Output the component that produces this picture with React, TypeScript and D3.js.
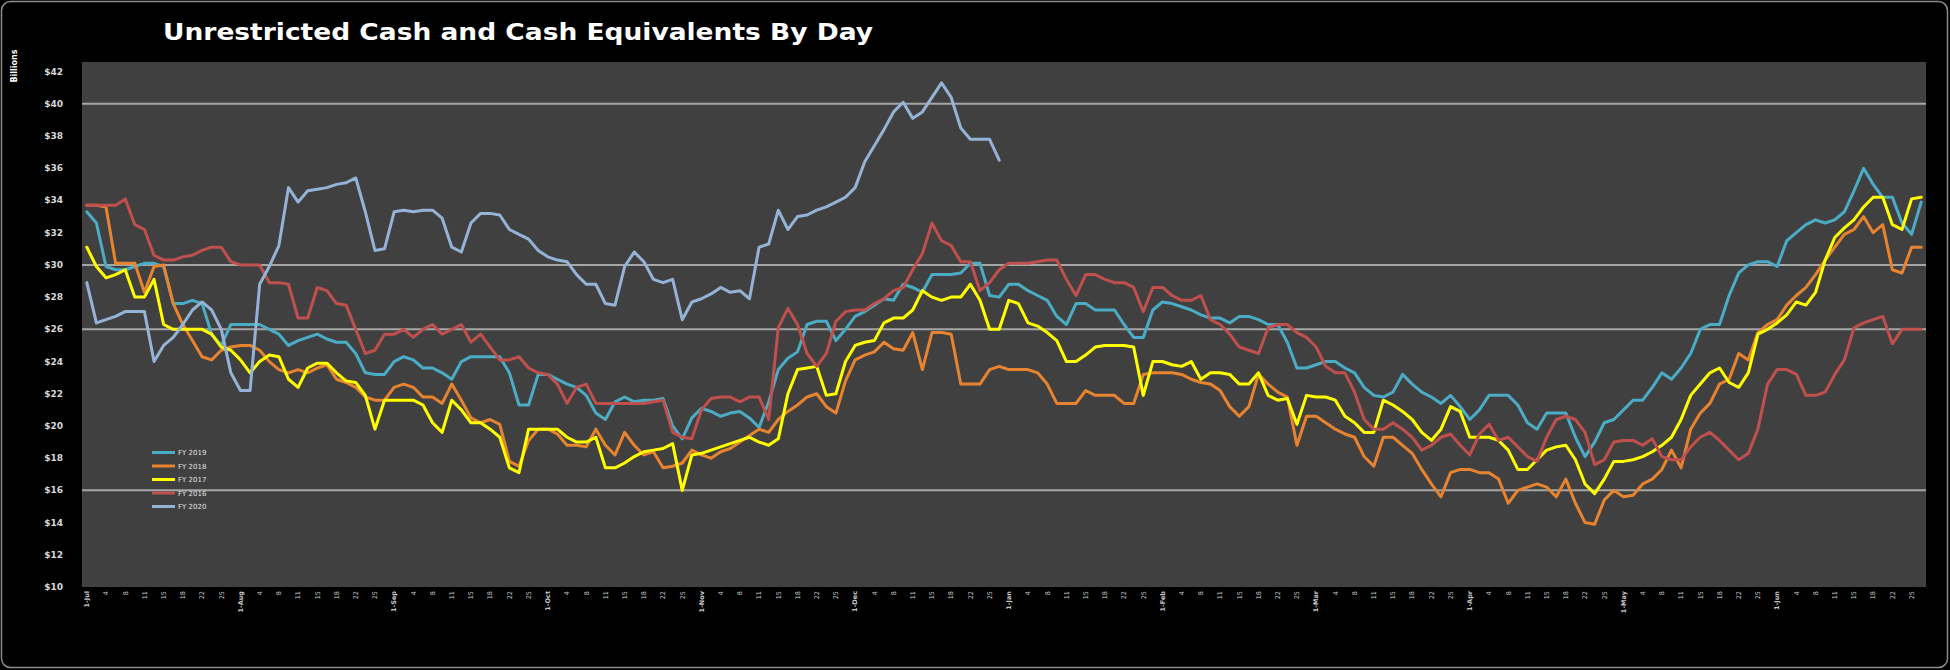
import React from 'react';
import * as d3 from 'd3';

// ---------- data ----------
const seriesNames = ['FY 2019', 'FY 2018', 'FY 2017', 'FY 2016', 'FY 2020'];

const teal = [
  33.3, 32.6, 29.9, 29.7, 29.7, 29.9, 30.1, 30.1, 29.9, 27.6,
  27.6, 27.8, 27.6, 25.7, 25.0, 26.3, 26.3, 26.3, 26.3, 26.0,
  25.7, 25.0, 25.3, 25.5, 25.7, 25.4, 25.2, 25.2, 24.5, 23.3,
  23.2, 23.2, 24.0, 24.3, 24.1, 23.6, 23.6, 23.3, 22.9, 24.0,
  24.3, 24.3, 24.3, 24.3, 23.3, 21.3, 21.3, 23.2, 23.2, 22.9,
  22.6, 22.4, 21.9, 20.8, 20.4, 21.5, 21.8, 21.5, 21.6, 21.6,
  21.7, 20.0, 19.2, 20.5, 21.1, 20.9, 20.6, 20.8, 20.9, 20.5,
  19.9, 21.5, 23.5, 24.2, 24.6, 26.3, 26.5, 26.5, 25.3, 26.0,
  26.8, 27.1, 27.5, 27.9, 27.8, 28.8, 28.6, 28.3, 29.4, 29.4,
  29.4, 29.5, 30.1, 30.1, 28.1, 28.0, 28.8, 28.8, 28.4, 28.1,
  27.8, 26.8, 26.3, 27.6, 27.6, 27.2, 27.2, 27.2, 26.3, 25.5,
  25.5, 27.2, 27.7, 27.6, 27.4, 27.2, 26.9, 26.7, 26.7, 26.4,
  26.8, 26.8, 26.6, 26.3, 26.3, 25.2, 23.6, 23.6, 23.8, 24.0,
  24.0, 23.6, 23.3, 22.4, 21.9, 21.8, 22.1, 23.2, 22.6, 22.1,
  21.8, 21.4, 21.9, 21.2, 20.4, 21.0, 21.9, 21.9, 21.9, 21.3,
  20.2, 19.8, 20.8, 20.8, 20.8, 19.3, 18.1, 19.0, 20.2, 20.4,
  21.0, 21.6, 21.6, 22.4, 23.3, 22.9, 23.6, 24.5, 26.0, 26.3,
  26.3, 28.1, 29.5, 30.0, 30.2, 30.2, 29.9, 31.5, 32.0, 32.5,
  32.8, 32.6, 32.8, 33.3, 34.6, 36.0, 35.0, 34.2, 34.2, 32.6,
  31.9, 33.9,
];

const orange = [
  33.7, 33.7, 33.6, 30.1, 30.1, 30.1, 28.3, 29.9, 30.0, 27.6,
  26.3, 25.3, 24.3, 24.1, 24.7, 24.9, 25.0, 25.0, 24.7, 24.0,
  23.5, 23.3, 23.5, 23.3, 23.6, 23.8, 22.9, 22.7, 22.4, 21.8,
  21.6, 21.6, 22.4, 22.6, 22.4, 21.8, 21.8, 21.4, 22.6, 21.6,
  20.5, 20.2, 20.4, 20.1, 17.8, 17.5, 19.1, 19.8, 19.8, 19.5,
  18.8, 18.8, 18.7, 19.8, 18.8, 18.2, 19.6, 18.8, 18.2, 18.4,
  17.4, 17.5, 17.7, 18.5, 18.2, 18.0, 18.4, 18.6, 19.0, 19.4,
  19.8, 19.6, 20.4, 20.9, 21.3, 21.8, 22.0, 21.2, 20.8, 22.8,
  24.1, 24.4, 24.6, 25.2, 24.8, 24.7, 25.8, 23.5, 25.8, 25.8,
  25.7, 22.6, 22.6, 22.6, 23.5, 23.7, 23.5, 23.5, 23.5, 23.3,
  22.6, 21.4, 21.4, 21.4, 22.2, 21.9, 21.9, 21.9, 21.4, 21.4,
  23.2, 23.3, 23.3, 23.3, 23.2, 22.9, 22.7, 22.6, 22.2, 21.2,
  20.6, 21.2, 23.2, 22.6, 22.1, 21.8, 18.8, 20.6, 20.6, 20.2,
  19.8, 19.5, 19.3, 18.1, 17.5, 19.3, 19.3, 18.8, 18.3, 17.3,
  16.4, 15.6, 17.1, 17.3, 17.3, 17.1, 17.1, 16.7, 15.2, 16.0,
  16.2, 16.4, 16.2, 15.6, 16.7, 15.2, 14.0, 13.9, 15.4, 16.0,
  15.6, 15.7, 16.4, 16.7, 17.3, 18.5, 17.4, 19.8, 20.8, 21.4,
  22.6, 22.9, 24.5, 24.1, 25.8, 26.3, 26.6, 27.5, 28.1, 28.6,
  29.4, 30.3, 31.1, 31.9, 32.2, 33.0, 32.0, 32.5, 29.7, 29.5,
  31.1, 31.1,
];

const yellow = [
  31.1, 29.9, 29.2, 29.4, 29.7, 28.0, 28.0, 29.1, 26.3, 26.0,
  26.0, 26.0, 26.0, 25.7, 24.9, 24.7, 24.1, 23.3, 24.0, 24.4,
  24.3, 22.9, 22.4, 23.6, 23.9, 23.9, 23.3, 22.8, 22.7, 21.9,
  19.8, 21.6, 21.6, 21.6, 21.6, 21.3, 20.2, 19.6, 21.6, 21.0,
  20.2, 20.2, 19.8, 19.3, 17.4, 17.1, 19.8, 19.8, 19.8, 19.8,
  19.3, 19.0, 19.0, 19.3, 17.4, 17.4, 17.7, 18.1, 18.4, 18.5,
  18.6, 18.9, 16.0, 18.2, 18.3, 18.5, 18.7, 18.9, 19.1, 19.3,
  19.0, 18.8, 19.2, 22.0, 23.5, 23.6, 23.7, 21.9, 22.0, 24.0,
  25.0, 25.2, 25.3, 26.4, 26.7, 26.7, 27.2, 28.4, 28.0, 27.8,
  28.0, 28.0, 28.8, 27.8, 26.0, 26.0, 27.8, 27.6, 26.4, 26.2,
  25.8, 25.3, 24.0, 24.0, 24.4, 24.9, 25.0, 25.0, 25.0, 24.9,
  21.9, 24.0, 24.0, 23.8, 23.7, 24.0, 22.9, 23.3, 23.3, 23.2,
  22.6, 22.6, 23.3, 21.9, 21.6, 21.7, 20.1, 21.9, 21.8, 21.8,
  21.6, 20.6, 20.2, 19.6, 19.6, 21.6, 21.3, 20.9, 20.4, 19.6,
  19.1, 19.8, 21.2, 20.9, 19.3, 19.3, 19.3, 19.1, 18.5, 17.3,
  17.3, 17.9, 18.5, 18.7, 18.8, 17.9, 16.4, 15.8, 16.7, 17.8,
  17.8, 17.9, 18.1, 18.4, 18.8, 19.3, 20.4, 21.9, 22.6, 23.3,
  23.6, 22.7, 22.4, 23.3, 25.7, 26.0, 26.4, 26.9, 27.7, 27.5,
  28.3, 30.3, 31.7, 32.3, 32.8, 33.6, 34.2, 34.2, 32.5, 32.2,
  34.1, 34.2,
];

const red = [
  33.7, 33.7, 33.7, 33.7, 34.1, 32.5, 32.2, 30.6, 30.3, 30.3,
  30.5, 30.6, 30.9, 31.1, 31.1, 30.2, 30.0, 30.0, 30.0, 28.9,
  28.9, 28.8, 26.7, 26.7, 28.6, 28.4, 27.6, 27.5, 26.0, 24.5,
  24.7, 25.7, 25.7, 26.0, 25.5, 26.0, 26.3, 25.7, 26.0, 26.3,
  25.2, 25.7, 24.9, 24.1, 24.1, 24.3, 23.6, 23.3, 23.2, 22.6,
  21.4, 22.4, 22.6, 21.4, 21.4, 21.4, 21.4, 21.4, 21.4, 21.5,
  21.6, 19.6, 19.3, 19.2, 21.0, 21.7, 21.8, 21.8, 21.5, 21.8,
  21.8, 20.4, 26.1, 27.3, 26.3, 24.5, 23.7, 24.5, 26.5, 27.1,
  27.2, 27.2, 27.6, 27.9, 28.4, 28.6, 29.7, 30.7, 32.6, 31.5,
  31.2, 30.2, 30.2, 28.4, 28.9, 29.7, 30.1, 30.1, 30.1, 30.2,
  30.3, 30.3, 29.1, 28.1, 29.4, 29.4, 29.1, 28.9, 28.9, 28.6,
  27.1, 28.6, 28.6, 28.1, 27.8, 27.8, 28.1, 26.6, 26.3, 25.7,
  24.9, 24.7, 24.5, 26.1, 26.3, 26.3, 25.8, 25.5, 24.9, 23.7,
  23.3, 23.3, 22.1, 20.4, 19.8, 19.8, 20.2, 19.8, 19.3, 18.5,
  18.8, 19.3, 19.5, 18.8, 18.2, 19.5, 20.1, 19.1, 19.3, 18.7,
  18.1, 17.8, 19.3, 20.4, 20.6, 20.4, 19.6, 17.6, 17.9, 19.0,
  19.1, 19.1, 18.8, 19.2, 18.1, 17.9, 17.9, 18.7, 19.3, 19.6,
  19.1, 18.5, 17.9, 18.3, 19.8, 22.6, 23.5, 23.5, 23.2, 21.9,
  21.9, 22.1, 23.2, 24.1, 26.1, 26.4, 26.6, 26.8, 25.1, 26.0,
  26.0, 26.0,
];

const lightBlue = [
  28.9, 26.4, 26.6, 26.8, 27.1, 27.1, 27.1, 24.0, 25.0, 25.5,
  26.3, 27.2, 27.7, 27.2, 26.0, 23.3, 22.2, 22.2, 28.8, 29.9,
  31.2, 34.8, 33.9, 34.6, 34.7, 34.8, 35.0, 35.1, 35.4, 33.3,
  30.9, 31.0, 33.3, 33.4, 33.3, 33.4, 33.4, 32.9, 31.1, 30.8,
  32.6, 33.2, 33.2, 33.1, 32.2, 31.9, 31.6, 30.9, 30.5, 30.3,
  30.2, 29.4, 28.8, 28.8, 27.6, 27.5, 29.9, 30.8, 30.2, 29.1,
  28.9, 29.1, 26.6, 27.7, 27.9, 28.2, 28.6, 28.3, 28.4, 27.9,
  31.1, 31.3, 33.4, 32.2, 33.0, 33.1, 33.4, 33.6, 33.9, 34.2,
  34.8, 36.4, 37.4, 38.4, 39.5, 40.1, 39.1, 39.5, 40.4, 41.3,
  40.4, 38.5, 37.8, 37.8, 37.8, 36.5,
];

const yTickValues = [10, 12, 14, 16, 18, 20, 22, 24, 26, 28, 30, 32, 34, 36, 38, 40, 42];
const gridValues = [16, 26, 30, 40];
const monthNames = ['Jul', 'Aug', 'Sep', 'Oct', 'Nov', 'Dec', 'Jan', 'Feb', 'Mar', 'Apr', 'May', 'Jun'];
const dayTicks = ['1', '4', '8', '11', '15', '18', '22', '25'];

const colors = ['#4bacc6', '#e8832f', '#ffff00', '#c0504d', '#95b3d7'];

export default function App() {
  const W = 1950;
  const H = 670;
  const left = 82, right = 1926, top = 62, bottom = 587;
  const n = teal.length;

  const x = d3.scalePoint<number>().domain(d3.range(n)).range([left, right]).padding(0.5);
  const y = d3.scaleLinear().domain([10, 42.6]).range([bottom, top]);
  const line = d3.line<number>().x((_d, i) => x(i) as number).y((d) => y(d));

  const series = [teal, orange, yellow, red, lightBlue].map((values, i) => ({
    name: seriesNames[i],
    color: colors[i],
    values,
  }));

  // x tick labels: every second category
  const xLabels: { idx: number; text: string; month: boolean }[] = [];
  monthNames.forEach((m, mi) => {
    dayTicks.forEach((d, di) => {
      const idx = (mi * dayTicks.length + di) * 2;
      xLabels.push({ idx, text: di === 0 ? `${d}-${m}` : d, month: di === 0 });
    });
  });

  const legendY0 = 452.5;
  const legendStep = 13.5;

  return (
    <svg
      width={W}
      height={H}
      style={{ position: 'absolute', left: 0, top: 0, display: 'block' }}
      fontFamily="'DejaVu Sans', sans-serif"
    >
      <rect x={0} y={0} width={W} height={H} fill="#000" />
      <rect x={1.5} y={1.5} width={W - 4} height={H - 4} rx={9} fill="#000" stroke="#8a8a8a" strokeWidth={1.5} />

      <text
        x={163}
        y={40}
        fill="#fff"
        fontSize={23}
        fontWeight="bold"
        textLength={710}
        lengthAdjust="spacingAndGlyphs"
      >
        Unrestricted Cash and Cash Equivalents By Day
      </text>

      {/* y axis title */}
      <text
        transform="translate(17,66) rotate(-90)"
        fill="#fff"
        fontSize={8}
        fontWeight="bold"
        textAnchor="middle"
      >
        Billions
      </text>

      {/* plot area */}
      <rect x={left} y={top} width={right - left} height={bottom - top} fill="#404040" />

      {gridValues.map((g) => (
        <line key={g} x1={left} x2={right} y1={y(g)} y2={y(g)} stroke="#a6a6a6" strokeWidth={2} />
      ))}

      {yTickValues.map((v) => (
        <text key={v} x={63} y={y(v) + 3} fill="#d8d8d8" fontSize={9} fontWeight="bold" textAnchor="end">
          {`$${v}`}
        </text>
      ))}

      {xLabels.map((l) => (
        <text
          key={l.idx}
          transform={`translate(${(x(l.idx) as number) + 2.3},${591}) rotate(-90)`}
          fill="#c8c8c8"
          fontSize={6.5}
          fontWeight={l.month ? 'bold' : 'normal'}
          textAnchor="end"
        >
          {l.text}
        </text>
      ))}

      {series.map((s) => (
        <path
          key={s.name}
          d={line(s.values) || ''}
          fill="none"
          stroke={s.color}
          strokeWidth={3}
          strokeLinejoin="round"
          strokeLinecap="round"
        />
      ))}

      {/* legend */}
      {series.map((s, i) => (
        <g key={s.name} transform={`translate(152,${legendY0 + i * legendStep})`}>
          <line x1={0} x2={23} y1={0} y2={0} stroke={s.color} strokeWidth={3} />
          <text x={26} y={2.5} fill="#e0e0e0" fontSize={7}>
            {s.name}
          </text>
        </g>
      ))}
    </svg>
  );
}
